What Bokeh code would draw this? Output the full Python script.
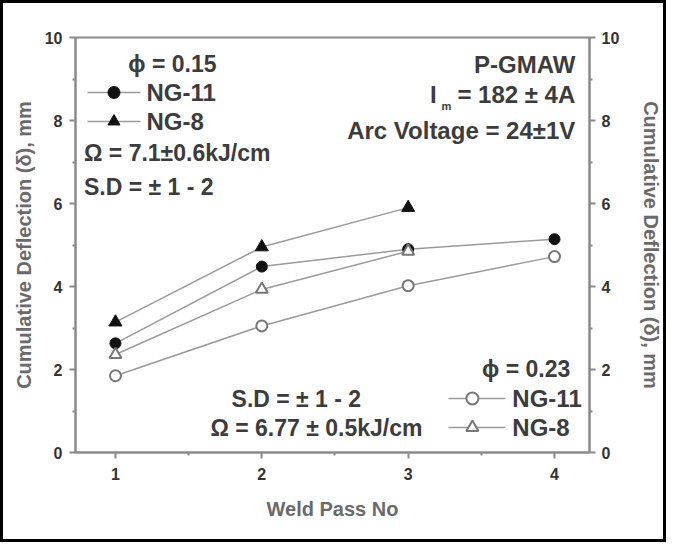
import math
from bokeh.plotting import figure
from bokeh.models import LinearAxis, FixedTicker, Range1d
from bokeh.core.properties import value
from bokeh.embed import file_html
from bokeh.resources import INLINE

# ---- data ----
passes = [1, 2, 3, 4]
ng11_phi015 = [2.63, 4.48, 4.90, 5.14]
ng8_phi015 = [3.14, 4.95, 5.90]
ng11_phi023 = [1.85, 3.05, 4.02, 4.72]
ng8_phi023 = [2.36, 3.93, 4.85]
x_ticks = [1, 2, 3, 4]
y_ticks = [0, 2, 4, 6, 8, 10]
y_title = "Cumulative Deflection (δ), mm"

FONT = "Liberation Sans"
LINE = "#9a9a9a"
AXC = "#8a8a8a"
TXT = "#3c3c3c"

p = figure(width=666, height=542,
           x_range=Range1d(0.727, 4.239), y_range=Range1d(0, 10),
           output_backend="svg", toolbar_location=None,
           min_border_left=72, min_border_right=80,
           min_border_top=34, min_border_bottom=93,
           background_fill_color="white", border_fill_color="white",
           styles={"border": "3px solid black"})
p.grid.visible = False
p.outline_line_color = AXC
p.outline_line_width = 2

def style_axis(ax, ticks, minor):
    ax.ticker = FixedTicker(ticks=ticks, minor_ticks=minor)
    ax.axis_line_color = AXC
    ax.axis_line_width = 2
    ax.major_tick_line_color = AXC
    ax.major_tick_line_width = 2
    ax.minor_tick_line_color = AXC
    ax.minor_tick_line_width = 2
    ax.major_tick_in = 0
    ax.major_tick_out = 6
    ax.minor_tick_in = 0
    ax.minor_tick_out = 3
    ax.major_label_text_font = FONT
    ax.major_label_text_font_style = "bold"
    ax.major_label_text_font_size = "16px"
    ax.major_label_text_color = "#333333"
    ax.axis_label_text_font = FONT
    ax.axis_label_text_font_style = "bold"
    ax.axis_label_text_font_size = "20px"
    ax.axis_label_text_color = "#6a6a6a"

xa = p.xaxis[0]
style_axis(xa, x_ticks, [1.5, 2.5, 3.5])
xa.axis_label = "Weld Pass No"
xa.major_label_standoff = 9
xa.axis_label_standoff = 15

ya = p.yaxis[0]
style_axis(ya, y_ticks, [1, 3, 5, 7, 9])
ya.axis_label = y_title
ya.major_label_standoff = 7
ya.axis_label_standoff = 7

yr = LinearAxis()
style_axis(yr, y_ticks, [1, 3, 5, 7, 9])
yr.major_label_standoff = 6
yr.axis_label = y_title
yr.axis_label_standoff = 18
p.add_layout(yr, "right")

# ---- series ----
p.line(passes, ng11_phi023, line_color=LINE, line_width=1.5)
p.line(passes[:3], ng8_phi023, line_color=LINE, line_width=1.5)
p.line(passes, ng11_phi015, line_color=LINE, line_width=1.5)
p.line(passes[:3], ng8_phi015, line_color=LINE, line_width=1.5)

p.scatter(passes, ng11_phi015, marker="circle", size=11, fill_color="#111111", line_color="#111111")
p.scatter(passes[:3], ng8_phi015, marker="triangle", size=13, fill_color="#111111", line_color="#111111")
p.scatter(passes, ng11_phi023, marker="circle", size=11, fill_color="white", line_color="#777777", line_width=2)
p.scatter(passes[:3], ng8_phi023, marker="triangle", size=12, fill_color="white", line_color="#777777", line_width=2)

# ---- in-plot text and legends ----
def txt(x, y, s, align="left", size="23px"):
    p.text(x=[x], y=[y], text=[s], text_font=value(FONT), text_font_style="bold",
           text_font_size=size, text_color=TXT, text_align=align, text_baseline="middle")

def legend_sample(x0, x1, xm, y, marker, filled):
    p.line([x0, x1], [y, y], line_color=LINE, line_width=1.5)
    if filled:
        p.scatter([xm], [y], marker=marker, size=12, fill_color="#111111", line_color="#111111")
    else:
        p.scatter([xm], [y], marker=marker, size=12, fill_color="white", line_color="#777777", line_width=2)

# upper-left block (phi = 0.15)
txt(1.389, 9.373, "ϕ = 0.15", align="center")
legend_sample(0.809, 1.171, 0.990, 8.675, "circle", True)
txt(1.212, 8.675, "NG-11", size="24px")
legend_sample(0.809, 1.171, 0.990, 7.976, "triangle", True)
txt(1.212, 7.976, "NG-8", size="24px")
txt(0.785, 7.205, "Ω = 7.1±0.6kJ/cm")
txt(0.785, 6.386, "S.D = ± 1 - 2")

# upper-right block
txt(4.142, 9.349, "P-GMAW", align="right", size="24px")
txt(4.142, 8.627, "= 182 ± 4A", align="right", size="24px")
txt(3.150, 8.627, "I", size="24px")
txt(3.262, 8.361, "m", align="center", size="11px")
txt(4.142, 7.759, "Arc Voltage = 24±1V", align="right", size="24px")

# lower-right block (phi = 0.23)
txt(4.108, 2.024, "ϕ = 0.23", align="right")
legend_sample(3.275, 3.664, 3.439, 1.301, "circle", False)
txt(3.712, 1.301, "NG-11", size="24px")
legend_sample(3.275, 3.664, 3.439, 0.602, "triangle", False)
txt(3.712, 0.602, "NG-8", size="24px")
txt(2.236, 1.301, "S.D = ± 1 - 2", align="center")
txt(2.373, 0.602, "Ω = 6.77 ± 0.5kJ/cm", align="center")

open("out.html", "w").write(file_html(p, INLINE))
